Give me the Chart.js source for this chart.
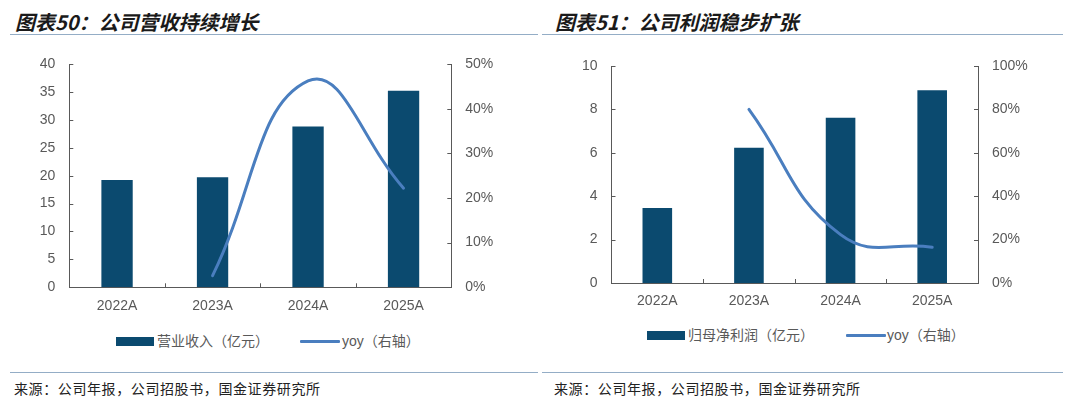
<!DOCTYPE html>
<html>
<head>
<meta charset="utf-8">
<script src="https://cdn.jsdelivr.net/npm/chart.js@4.4.1/dist/chart.umd.min.js"></script>
<style>
  html, body { margin:0; padding:0; background:#fff; }
  body { width:1080px; height:402px; position:relative; overflow:hidden; font-family:"Noto Sans CJK SC", sans-serif; }
  .title { position:absolute; top:8px; font-size:20px; font-weight:bold; font-style:italic; color:#1a1a1a; line-height:28px; white-space:nowrap; }
  .rule { position:absolute; height:1px; background:#94adc6; }
  .src { position:absolute; top:378px; font-size:14px; color:#222; letter-spacing:0.6px; line-height:20px; white-space:nowrap; }
  canvas { position:absolute; top:40px; }
  .lg { position:absolute; font-size:14px; color:#595959; line-height:18px; white-space:nowrap; font-family:"Liberation Sans","Noto Sans CJK SC",sans-serif; }
  .box { position:absolute; height:9px; background:#0b4a6f; }
  .ln { position:absolute; height:3px; background:#4a7ebf; border-radius:1px; }
</style>
</head>
<body>
<div class="title" style="left:15px;">图表50：公司营收持续增长</div>
<div class="title" style="left:555px;">图表51：公司利润稳步扩张</div>
<div class="rule" style="left:10px;width:528px;top:34px;"></div>
<div class="rule" style="left:542px;width:521px;top:34px;"></div>

<canvas id="c1" width="540" height="280" style="left:0px;"></canvas>
<canvas id="c2" width="540" height="280" style="left:540px;"></canvas>

<div id="lg1"></div>
<div id="lg2"></div>

<div class="rule" style="left:10px;width:528px;top:372px;"></div>
<div class="rule" style="left:542px;width:521px;top:372px;"></div>
<div class="src" style="left:14px;">来源：公司年报，公司招股书，国金证券研究所</div>
<div class="src" style="left:554px;">来源：公司年报，公司招股书，国金证券研究所</div>

<script>
// ---- data ----
const categories = ['2022A', '2023A', '2024A', '2025A'];
const revenue = [19.2, 19.7, 28.8, 35.2];          // 营业收入（亿元）
const revenueYoy = [null, 2.6, 46.2, 22.2];        // yoy %
const profit = [3.46, 6.23, 7.62, 8.88];           // 归母净利润（亿元）
const profitYoy = [null, 80, 22.3, 16.5];          // yoy %
const revenueLabel = '营业收入（亿元）';
const profitLabel = '归母净利润（亿元）';
const yoyLabel = 'yoy（右轴）';

const BAR = '#0b4a6f';
const LINE = '#4a7ebf';
const AXIS = '#595959';

Chart.defaults.font.family = '"Liberation Sans", Arial, "Noto Sans CJK SC", sans-serif';
Chart.defaults.font.size = 14;
Chart.defaults.color = '#595959';

const innerTicks = {
  id: 'innerTicks',
  afterDatasetsDraw(chart) {
    const { ctx, chartArea: a, scales } = chart;
    ctx.save();
    ctx.strokeStyle = AXIS;
    ctx.lineWidth = 1;
    ctx.beginPath();
    scales.y.ticks.forEach(t => {
      const y = Math.round(scales.y.getPixelForValue(t.value)) + 0.5;
      ctx.moveTo(a.left, y); ctx.lineTo(a.left + 4, y);
    });
    scales.y1.ticks.forEach(t => {
      const y = Math.round(scales.y1.getPixelForValue(t.value)) + 0.5;
      ctx.moveTo(a.right, y); ctx.lineTo(a.right - 4, y);
    });
    for (let i = 0; i < categories.length - 1; i++) {
      const x = Math.round(scales.x.getPixelForValue(i + 0.5)) + 0.5;
      ctx.moveTo(x, a.bottom); ctx.lineTo(x, a.bottom - 4);
    }
    ctx.stroke();
    ctx.restore();
  }
};

function makeChart(id, bars, yoy, barLabel, yMax, yStep, y1Max, y1Step, pad, barPct) {
  return new Chart(document.getElementById(id), {
    data: {
      labels: categories,
      datasets: [
        {
          type: 'line', label: yoyLabel, data: yoy, yAxisID: 'y1', order: 0,
          borderColor: LINE, borderWidth: 3, pointRadius: 0, tension: 0.45,
          borderCapStyle: 'round', fill: false
        },
        {
          type: 'bar', label: barLabel, data: bars, yAxisID: 'y', order: 1,
          backgroundColor: BAR, categoryPercentage: 1.0, barPercentage: barPct
        }
      ]
    },
    options: {
      responsive: false,
      animation: false,
      layout: { padding: pad },
      plugins: { legend: { display: false }, tooltip: { enabled: false } },
      scales: {
        x: {
          grid: { display: false, drawTicks: false },
          border: { display: true, color: AXIS, width: 1 },
          ticks: { padding: 10, color: '#595959' },
          afterFit: s => { s.height = 30; }
        },
        y: {
          position: 'left', min: 0, max: yMax,
          ticks: { stepSize: yStep, padding: 14, color: '#595959' },
          grid: { display: false, drawTicks: false },
          border: { display: true, color: AXIS, width: 1 },
          afterFit: s => { s.width = 50; }
        },
        y1: {
          position: 'right', min: 0, max: y1Max,
          ticks: { stepSize: y1Step, padding: 14, color: '#595959', callback: v => v + '%' },
          grid: { display: false, drawTicks: false },
          border: { display: true, color: AXIS, width: 1 },
          afterFit: s => { s.width = 60; }
        }
      }
    },
    plugins: [innerTicks]
  });
}

makeChart('c1', revenue, revenueYoy, revenueLabel, 40, 5, 50, 10,
  { left: 19.3, right: 28.7, top: 24, bottom: 2.7 }, 0.328);
makeChart('c2', profit, profitYoy, profitLabel, 10, 2, 100, 20,
  { left: 21.5, right: 42, top: 26, bottom: 7 }, 0.323);

function legend(id, cy, boxX, textX, lineX, text2X, label) {
  const el = document.getElementById(id);
  el.innerHTML =
    '<div class="box" style="left:' + boxX + 'px;width:38px;top:' + (cy - 4.5) + 'px;"></div>' +
    '<div class="lg" style="left:' + textX + 'px;top:' + (cy - 9) + 'px;">' + label + '</div>' +
    '<div class="ln" style="left:' + lineX + 'px;width:40px;top:' + (cy - 1.5) + 'px;"></div>' +
    '<div class="lg" style="left:' + text2X + 'px;top:' + (cy - 9) + 'px;">' + yoyLabel + '</div>';
}
legend('lg1', 341, 116, 157, 300, 342, revenueLabel);
legend('lg2', 335, 647, 688, 846, 887, profitLabel);
</script>
</body>
</html>
